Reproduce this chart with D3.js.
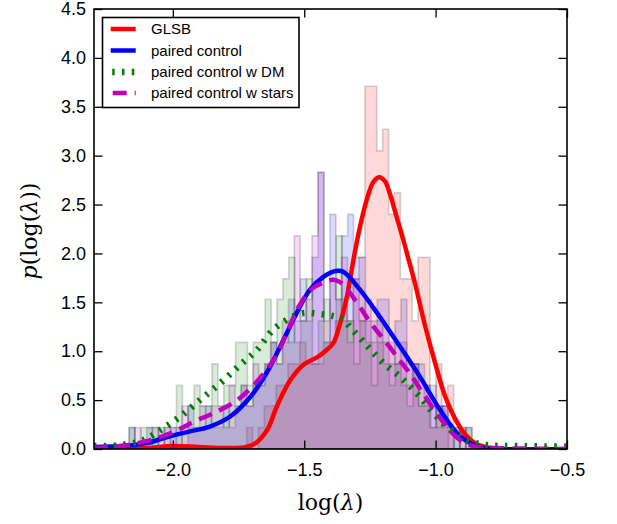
<!DOCTYPE html>
<html><head><meta charset="utf-8">
<script src="https://cdn.jsdelivr.net/npm/d3@7"></script>
<style>body{margin:0;background:#fff}svg{display:block}</style>
</head><body><svg id="c" width="617" height="524"></svg>
<script>
// ---------- data ----------
const xDomain = [-2.3, -0.5];
const yDomain = [0, 4.5];
const xTicks = [-2.0, -1.5, -1.0, -0.5];
const yTicks = [0, 0.5, 1.0, 1.5, 2.0, 2.5, 3.0, 3.5, 4.0, 4.5];
const seriesNames = ["GLSB", "paired control", "paired control w DM", "paired control w stars"];
const binWidth = 0.0225;

// histograms (density per bin), starting at given left edges
const glsbStart = -1.719;
const glsbHist = [0.22,0,0.22,0.44,0.44,0.65,0.65,0.87,0.87,1.09,0.87,0.87,0.87,1.09,1.09,1.31,1.53,1.31,1.74,1.96,
  3.71,3.71,3.05,3.27,2.40,2.62,1.74,1.74,1.31,1.96,1.96,0.22,0.87,0.44,0.65,0,0.22];
const controlStart = -2.1895;
const controlHist = [0,0.22,0,0,0.22,0,0.22,0,0.22,0.22,0,0.44,0.22,0.22,0.44,0.22,0.22,0.44,0.22,0.44,
  0.65,0.44,0.65,0.65,0.87,1.09,0.87,1.09,1.53,1.31,1.74,1.31,1.96,2.83,1.09,
  2.40,1.53,2.18,2.40,1.96,1.96,1.31,1.31,1.53,1.53,0.87,1.31,1.53,0.87,0.87,0.87,0.65,0.65,0.44,0.44,0.22,0.22,0,0.22];
const dmStart = -2.211;
const dmHist = [0,0,0.22,0,0.22,0.22,0.22,0,0.22,0,
  0.65,0.22,0.44,0.65,0.44,0.44,0.87,0.44,0.65,0.65,
  1.09,1.09,0.65,1.09,1.09,1.53,1.09,1.53,1.74,1.96,
  1.09,1.31,1.74,0.87,1.31,1.53,1.09,2.18,1.31,1.31,
  0.87,1.31,1.09,0.65,1.09,0.87,0.65,0.87,0.65,0.44,
  0.87,0.44,0.44,0.22,0.44,0.22,0,0.22,0,0.22];
const starsStart = -2.1905;
const starsHist = [0,0,0.22,0,0,0.22,0,0.22,0.22,0,
  0.44,0.22,0.22,0.44,0.22,0.44,0.44,0.22,0.65,0.44,
  0.65,0.44,0.87,0.65,0.87,1.09,0.87,1.31,1.09,2.18,
  1.31,1.53,2.18,2.83,1.31,1.74,1.53,1.96,1.09,1.74,
  1.31,1.53,1.09,1.31,1.09,1.09,0.87,1.09,0.65,0.87,
  0.44,0.65,0.44,0.22,0.44,0.22,0,0.22];

// KDE curves [log(lambda), density]
const glsbKde = [[-2.3,0.0],[-2.1,0.01],[-2.0,0.03],[-1.9,0.02],[-1.8,0.01],[-1.72,0.02],[-1.68,0.07],[-1.64,0.2],
  [-1.605,0.43],[-1.554,0.70],[-1.504,0.86],[-1.45,0.94],[-1.42,1.0],[-1.39,1.08],[-1.364,1.28],[-1.338,1.55],
  [-1.313,1.93],[-1.288,2.27],[-1.262,2.55],[-1.237,2.73],[-1.215,2.78],[-1.193,2.74],[-1.174,2.61],[-1.148,2.37],
  [-1.123,2.14],[-1.104,1.95],[-1.079,1.70],[-1.041,1.27],[-1.002,0.88],[-0.964,0.54],[-0.926,0.31],
  [-0.888,0.15],[-0.85,0.06],[-0.812,0.02],[-0.75,0.0],[-0.5,0.0]];
const controlKde = [[-2.3,0.02],[-2.188,0.03],[-2.1,0.06],[-2.024,0.12],[-1.935,0.18],[-1.859,0.23],[-1.783,0.33],
  [-1.706,0.53],[-1.643,0.78],[-1.58,1.11],[-1.529,1.39],[-1.478,1.63],[-1.427,1.76],[-1.38,1.82],[-1.35,1.81],
  [-1.288,1.63],[-1.212,1.35],[-1.136,1.05],[-1.06,0.74],[-0.983,0.40],[-0.907,0.13],[-0.831,0.02],[-0.76,0.0],[-0.5,0.0]];
const dmKde = [[-2.3,0.03],[-2.2,0.04],[-2.112,0.09],[-2.049,0.19],[-1.973,0.33],[-1.897,0.50],[-1.821,0.67],
  [-1.744,0.86],[-1.681,1.01],[-1.618,1.22],[-1.554,1.34],[-1.504,1.39],[-1.44,1.38],[-1.389,1.36],[-1.352,1.33],
  [-1.326,1.25],[-1.262,1.06],[-1.199,0.88],[-1.136,0.74],[-1.072,0.57],[-1.009,0.37],[-0.945,0.20],[-0.882,0.09],
  [-0.806,0.04],[-0.69,0.03],[-0.5,0.025]];
const starsKde = [[-2.3,0.01],[-2.2,0.03],[-2.1,0.08],[-2.0,0.17],[-1.92,0.28],[-1.85,0.36],[-1.76,0.49],[-1.69,0.66],
  [-1.61,0.94],[-1.567,1.18],[-1.52,1.46],[-1.47,1.64],[-1.42,1.71],[-1.39,1.73],[-1.36,1.70],[-1.30,1.50],
  [-1.25,1.30],[-1.2,1.13],[-1.14,0.92],[-1.10,0.78],[-1.05,0.58],[-1.0,0.38],[-0.96,0.24],[-0.92,0.12],
  [-0.88,0.05],[-0.84,0.02],[-0.78,0.01],[-0.5,0.0]];

// ---------- drawing ----------
const W = 617, H = 524;
const m = {left: 94, right: 567, top: 9, bottom: 449};
const svg = d3.select("#c");
svg.append("rect").attr("width", W).attr("height", H).attr("fill", "#fff");

const x = d3.scaleLinear().domain(xDomain).range([m.left, m.right]);
const y = d3.scaleLinear().domain(yDomain).range([m.bottom, m.top]);

svg.append("clipPath").attr("id", "clip").append("rect")
  .attr("x", m.left).attr("y", m.top).attr("width", m.right - m.left).attr("height", m.bottom - m.top);
const plot = svg.append("g").attr("clip-path", "url(#clip)");

const colors = ["#ff0000", "#0000ff", "#008000", "#bf00bf"];
const hists = [[glsbStart, glsbHist], [controlStart, controlHist], [dmStart, dmHist], [starsStart, starsHist]];
const kdes = [glsbKde, controlKde, dmKde, starsKde];

const stepLine = d3.line().x(d => x(d[0])).y(d => y(d[1]));
hists.forEach(([s, vals], i) => {
  const pts = [[s, 0]];
  vals.forEach((v, k) => { pts.push([s + k * binWidth, v]); pts.push([s + (k + 1) * binWidth, v]); });
  pts.push([s + vals.length * binWidth, 0]);
  plot.append("path").attr("d", stepLine(pts) + "Z")
    .attr("fill", colors[i]).attr("fill-opacity", 0.15)
    .attr("stroke", "#000").attr("stroke-opacity", 0.16).attr("stroke-width", 1.7)
    .attr("stroke-linejoin", "miter");
});

const styles = [
  {w: 4.5, dash: null},
  {w: 4.5, dash: null},
  {w: 6.5, dash: "2.5,7.3"},
  {w: 4.5, dash: "14,8"}
];
const kdeLine = d3.line().x(d => x(d[0])).y(d => y(d[1])).curve(d3.curveCatmullRom.alpha(0.5));
kdes.forEach((data, i) => {
  plot.append("path").attr("d", kdeLine(data)).attr("fill", "none")
    .attr("stroke", colors[i]).attr("stroke-width", styles[i].w)
    .attr("stroke-dasharray", styles[i].dash).attr("stroke-linecap", "butt").attr("stroke-linejoin", "round");
});

// axes
const fmt = d3.format(".1f");
const tickLen = 8.5;
const axFont = "Liberation Sans, Arial, sans-serif";
function styleAxis(g) {
  g.select(".domain").remove();
  g.selectAll(".tick line").attr("stroke", "#000").attr("stroke-width", 1.3);
  g.selectAll("text").attr("font-family", axFont).attr("font-size", 18).attr("fill", "#000");
}
svg.append("g").attr("transform", `translate(0,${m.bottom})`)
  .call(d3.axisBottom(x).tickValues(xTicks).tickFormat(fmt).tickSize(-tickLen).tickPadding(14)).call(styleAxis);
svg.append("g").attr("transform", `translate(0,${m.top})`)
  .call(d3.axisTop(x).tickValues(xTicks).tickFormat("").tickSize(-tickLen)).call(styleAxis);
svg.append("g").attr("transform", `translate(${m.left},0)`)
  .call(d3.axisLeft(y).tickValues(yTicks).tickFormat(fmt).tickSize(-tickLen).tickPadding(8)).call(styleAxis);
svg.append("g").attr("transform", `translate(${m.right},0)`)
  .call(d3.axisRight(y).tickValues(yTicks).tickFormat("").tickSize(-tickLen)).call(styleAxis);

svg.append("rect").attr("x", m.left).attr("y", m.top)
  .attr("width", m.right - m.left).attr("height", m.bottom - m.top)
  .attr("fill", "none").attr("stroke", "#000").attr("stroke-width", 1.6);

// axis labels
const serif = "DejaVu Serif, Liberation Serif, serif";
const xl = svg.append("text").attr("x", (m.left + m.right) / 2).attr("y", 510)
  .attr("text-anchor", "middle").attr("font-family", serif).attr("font-size", 22).attr("font-weight", 300);
xl.append("tspan").text("log(");
xl.append("tspan").attr("font-style", "italic").text("λ");
xl.append("tspan").text(")");

const yl = svg.append("text").attr("transform", `translate(37,${(m.top + m.bottom) / 2 + 2}) rotate(-90)`)
  .attr("text-anchor", "middle").attr("font-family", serif).attr("font-size", 22).attr("font-weight", 300);
yl.append("tspan").attr("font-style", "italic").text("p");
yl.append("tspan").text("(log(");
yl.append("tspan").attr("font-style", "italic").text("λ");
yl.append("tspan").text("))");

// legend
const lg = svg.append("g");
lg.append("rect").attr("x", 102.5).attr("y", 17.5).attr("width", 196.5).attr("height", 90)
  .attr("fill", "#fff").attr("stroke", "#000").attr("stroke-width", 1.6);
const rowY = [29, 50.5, 72, 93];
seriesNames.forEach((name, i) => {
  lg.append("line").attr("x1", 110.7).attr("x2", 135.7).attr("y1", rowY[i]).attr("y2", rowY[i])
    .attr("stroke", colors[i]).attr("stroke-width", styles[i].w)
    .attr("stroke-dasharray", styles[i].dash)
    .attr("stroke-dashoffset", i === 3 ? -2 : (i === 2 ? -1.5 : 0));
  lg.append("text").attr("x", 151).attr("y", rowY[i]).attr("dy", "0.36em")
    .attr("font-family", axFont).attr("font-size", 15).attr("fill", "#000").text(name);
});
</script></body></html>
